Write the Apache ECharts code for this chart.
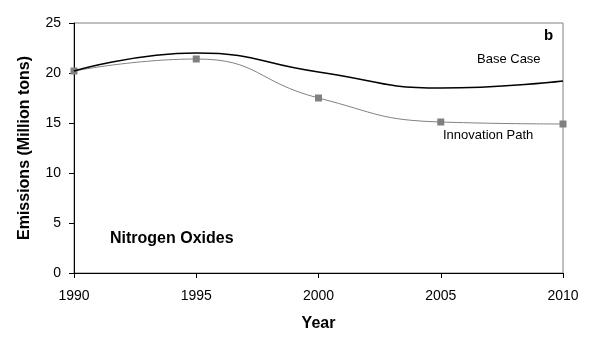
<!DOCTYPE html>
<html lang="en">
<head>
    <meta charset="utf-8">
    <title>Nitrogen Oxides</title>
    <script src="https://cdn.jsdelivr.net/npm/echarts@6/dist/echarts.min.js"></script>
</head>
<body style="margin:0;background:#fff;">
<div id="main" style="width: 614px;height:352px;"></div>
<script type="text/javascript">
    var years = [1990, 1995, 2000, 2005, 2010];
    var baseCase = [20.2, 22.0, 20.1, 18.5, 19.2];
    var innovationPath = [20.2, 21.4, 17.5, 15.1, 14.9];
    var yTicks = [0, 5, 10, 15, 20, 25];

    function pairs(xs, ys) {
        return xs.map(function (x, i) { return [x, ys[i]]; });
    }

    var myChart = echarts.init(document.getElementById('main'));
    var font = 'Liberation Sans, Arial, sans-serif';

    option = {
        animation: false,
        grid: {
            left: 74, right: 51, top: 23, bottom: 79,
            show: true, borderColor: '#808080', borderWidth: 1
        },
        xAxis: {
            type: 'value', min: 1990, max: 2010, interval: 5,
            name: 'Year', nameLocation: 'middle', nameGap: 43,
            nameTextStyle: { fontFamily: font, fontWeight: 'bold', fontSize: 16, color: '#000' },
            axisLine: { lineStyle: { color: '#000', width: 1 } },
            axisTick: { length: 5, lineStyle: { color: '#000' } },
            axisLabel: { fontFamily: font, fontSize: 14, color: '#000', margin: 16,
                formatter: function (v) { return String(v); } },
            splitLine: { show: false }
        },
        yAxis: {
            type: 'value', min: yTicks[0], max: yTicks[yTicks.length - 1], interval: 5,
            name: 'Emissions (Million tons)', nameLocation: 'middle', nameGap: 41,
            nameTextStyle: { fontFamily: font, fontWeight: 'bold', fontSize: 16, color: '#000' },
            axisLine: { show: true, lineStyle: { color: '#000', width: 1 } },
            axisTick: { show: true, length: 5, lineStyle: { color: '#000' } },
            axisLabel: { fontFamily: font, fontSize: 14, color: '#000', margin: 13 },
            splitLine: { show: false }
        },
        series: [{
            name: 'Base Case', type: 'line', smooth: 0.5,
            data: pairs(years, baseCase),
            showSymbol: false,
            lineStyle: { color: '#000', width: 1.5 },
            z: 3
        }, {
            name: 'Innovation Path', type: 'line', smooth: 0.5,
            data: pairs(years, innovationPath),
            symbol: 'rect', symbolSize: 7,
            itemStyle: { color: '#808080' },
            lineStyle: { color: '#808080', width: 1 },
            z: 2
        }],
        graphic: [
            { type: 'text', left: 477, top: 53, style: { text: 'Base Case', font: '13px ' + font, fill: '#000' } },
            { type: 'text', left: 443, top: 129, style: { text: 'Innovation Path', font: '13px ' + font, fill: '#000' } },
            { type: 'text', left: 544, top: 28, style: { text: 'b', font: 'bold 15px ' + font, fill: '#000' } },
            { type: 'text', left: 110, top: 231, style: { text: 'Nitrogen Oxides', font: 'bold 16px ' + font, fill: '#000' } }
        ]
    };
    myChart.setOption(option);
</script>
</body>
</html>
